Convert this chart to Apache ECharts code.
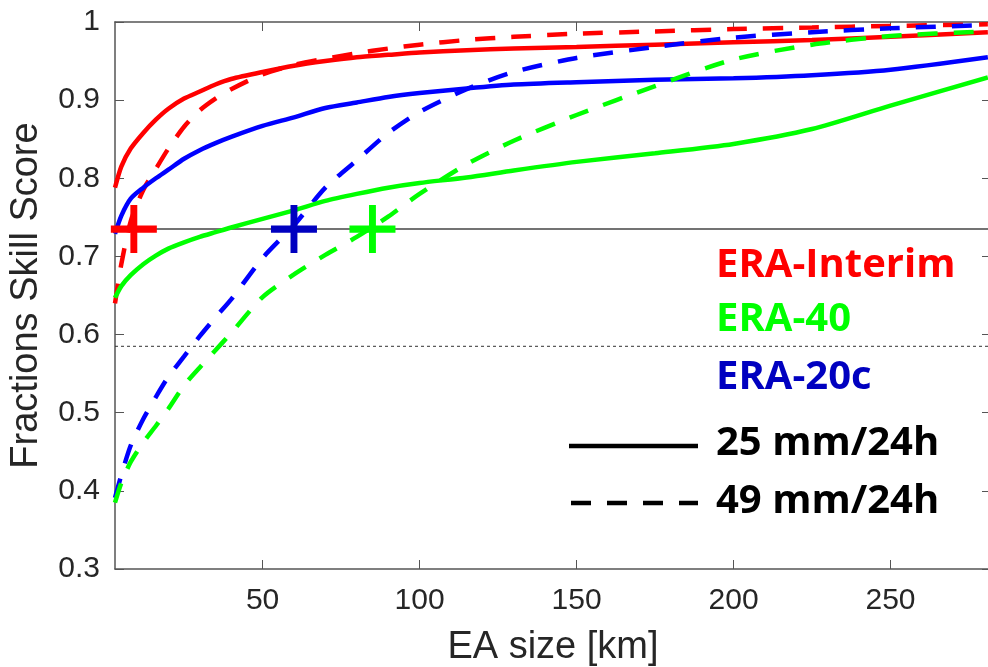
<!DOCTYPE html>
<html>
<head>
<meta charset="utf-8">
<script src="https://cdn.jsdelivr.net/npm/echarts@6/dist/echarts.min.js"></script>
<style>
  html, body { margin: 0; padding: 0; background: #fff; }
  #chart { width: 988px; height: 667px; }
</style>
</head>
<body>
<div id="chart"></div>
<script>
// EA size [km]
var eaSize = [3, 5, 8, 12, 16, 20, 25, 30, 35, 40, 50, 60, 70, 80, 90, 100, 115, 130, 150, 175, 200, 225, 250, 281];

// FSS, 25 mm/24h (solid)
var interim25 = [0.788, 0.815, 0.838, 0.858, 0.875, 0.889, 0.902, 0.911, 0.92, 0.927, 0.936, 0.944, 0.95, 0.955, 0.958, 0.961, 0.964, 0.966, 0.968, 0.971, 0.974, 0.977, 0.981, 0.987];
var era40_25 = [0.647, 0.662, 0.676, 0.69, 0.701, 0.71, 0.718, 0.725, 0.731, 0.737, 0.748, 0.759, 0.771, 0.78, 0.788, 0.794, 0.801, 0.81, 0.821, 0.832, 0.844, 0.863, 0.893, 0.929];
var era20c_25 = [0.729, 0.752, 0.774, 0.788, 0.80, 0.811, 0.825, 0.836, 0.845, 0.853, 0.867, 0.878, 0.89, 0.897, 0.904, 0.909, 0.915, 0.92, 0.923, 0.926, 0.928, 0.932, 0.939, 0.955];

// FSS, 49 mm/24h (dashed)
var interim49 = [0.64, 0.69, 0.745, 0.785, 0.812, 0.838, 0.866, 0.887, 0.902, 0.914, 0.933, 0.945, 0.953, 0.96, 0.966, 0.971, 0.977, 0.981, 0.985, 0.988, 0.991, 0.993, 0.995, 0.997];
var era40_49 = [0.385, 0.41, 0.437, 0.462, 0.483, 0.505, 0.535, 0.558, 0.58, 0.602, 0.648, 0.677, 0.702, 0.725, 0.751, 0.78, 0.818, 0.848, 0.881, 0.918, 0.952, 0.971, 0.982, 0.988];
var era20c_49 = [0.391, 0.42, 0.458, 0.492, 0.52, 0.546, 0.572, 0.598, 0.622, 0.645, 0.698, 0.74, 0.788, 0.823, 0.858, 0.885, 0.914, 0.936, 0.954, 0.968, 0.98, 0.987, 0.992, 0.996];

// reference levels and crossing points
var xRange = [3, 282];
var fssTarget = 0.735;
var fssUniform = 0.585;
var crossX = [9, 60, 85]; // ERA-Interim, ERA-20c, ERA-40

var xTicks = [50, 100, 150, 200, 250];

function pairs(ys) {
  return eaSize.map(function (x, i) { return [x, ys[i]]; });
}

var RED = '#ff0000', GREEN = '#00ff00', BLUE = '#0000ff', DARKBLUE = '#0000c0';
var DASH = [20, 16];
var plus = 'path://M4.25,0H5.75V4.25H10V5.75H5.75V10H4.25V5.75H0V4.25H4.25Z';

function curve(data, color, dashed) {
  return {
    type: 'line', data: pairs(data), showSymbol: false, smooth: 0.25,
    lineStyle: { color: color, width: 4.5, type: dashed ? DASH : 'solid', cap: 'butt' },
    z: 3, silent: true
  };
}

var chart = echarts.init(document.getElementById('chart'));
var axisLine = { show: true, lineStyle: { color: '#555', width: 1.5 } };
var labelFont = { fontFamily: 'Liberation Sans', fontSize: 30, color: '#262626' };
var nameFont = { fontFamily: 'Liberation Sans', fontSize: 38, color: '#262626' };

chart.setOption({
  animation: false,
  grid: { left: 115, right: -3, top: 22, bottom: 98, outerBoundsMode: 'none', containLabel: false },
  xAxis: [{
    type: 'value', min: xRange[0], max: xRange[1],
    axisLine: axisLine,
    axisTick: { inside: true, length: 9, customValues: xTicks, lineStyle: { color: '#555' } },
    axisLabel: Object.assign({ customValues: xTicks, margin: 17 }, labelFont),
    splitLine: { show: false },
    name: 'EA size [km]', nameLocation: 'middle', nameGap: 60,
    nameTextStyle: nameFont
  }, {
    type: 'value', min: xRange[0], max: xRange[1], position: 'top',
    axisLine: axisLine,
    axisTick: { inside: true, length: 9, customValues: xTicks, lineStyle: { color: '#555' } },
    axisLabel: { show: false }, splitLine: { show: false }
  }],
  yAxis: [{
    type: 'value', min: 0.3, max: 1, interval: 0.1,
    axisLine: axisLine,
    axisTick: { inside: true, length: 9, lineStyle: { color: '#555' } },
    axisLabel: Object.assign({ margin: 15, formatter: function (v) { return v === 1 ? '1' : v.toFixed(1); } }, labelFont),
    splitLine: { show: false },
    name: 'Fractions Skill Score', nameLocation: 'middle', nameGap: 69,
    nameTextStyle: nameFont
  }, {
    type: 'value', min: 0.3, max: 1, interval: 0.1, position: 'right',
    axisLine: axisLine,
    axisTick: { inside: true, length: 9, lineStyle: { color: '#555' } },
    axisLabel: { show: false }, splitLine: { show: false }
  }],
  series: [
    { type: 'line', data: [[xRange[0], fssTarget], [xRange[1], fssTarget]], showSymbol: false,
      lineStyle: { color: '#444', width: 1.5 }, z: 2, silent: true },
    { type: 'line', data: [[xRange[0], fssUniform], [xRange[1], fssUniform]], showSymbol: false,
      lineStyle: { color: '#333', width: 1, type: [3, 3] }, z: 2, silent: true },
    curve(interim25, RED, false),
    curve(interim49, RED, true),
    curve(era20c_25, BLUE, false),
    curve(era20c_49, BLUE, true),
    curve(era40_25, GREEN, false),
    curve(era40_49, GREEN, true),
    { type: 'scatter', symbol: plus, symbolSize: [46, 48], z: 5, silent: true,
      itemStyle: { opacity: 1 },
      data: [
        { value: [crossX[0], fssTarget], itemStyle: { color: RED, opacity: 1 } },
        { value: [crossX[1], fssTarget], itemStyle: { color: DARKBLUE, opacity: 1 } },
        { value: [crossX[2], fssTarget], itemStyle: { color: GREEN, opacity: 1 } }
      ] }
  ],
  graphic: [
    { type: 'text', left: 716, top: 246, style: { text: 'ERA-Interim', fill: RED, font: 'bold 40px "Open Sans"' } },
    { type: 'text', left: 716, top: 300, style: { text: 'ERA-40', fill: GREEN, font: 'bold 40px "Open Sans"' } },
    { type: 'text', left: 716, top: 358, style: { text: 'ERA-20c', fill: DARKBLUE, font: 'bold 40px "Open Sans"' } },
    { type: 'text', left: 716, top: 424, style: { text: '25 mm/24h', fill: '#000', font: 'bold 40px "Open Sans"' } },
    { type: 'text', left: 716, top: 482, style: { text: '49 mm/24h', fill: '#000', font: 'bold 40px "Open Sans"' } },
    { type: 'line', shape: { x1: 569, y1: 446, x2: 698, y2: 446 }, style: { stroke: '#000', lineWidth: 4.5 } },
    { type: 'line', shape: { x1: 571, y1: 503, x2: 698, y2: 503 }, style: { stroke: '#000', lineWidth: 4.5, lineDash: [20, 16] } }
  ]
});
</script>
</body>
</html>
